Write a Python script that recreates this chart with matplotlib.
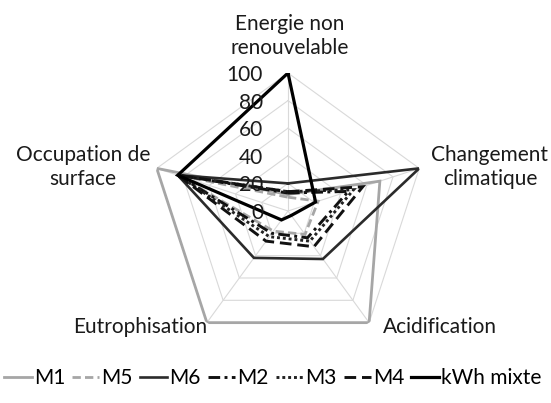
import numpy as np
import matplotlib
matplotlib.use("Agg")
import matplotlib.pyplot as plt
from matplotlib.lines import Line2D

# axes in clockwise order starting at the top
categories = ["Energie non\nrenouvelable", "Changement\nclimatique", "Acidification",
              "Eutrophisation", "Occupation de\nsurface"]
ticks = [0, 20, 40, 60, 80, 100]

M1 = [12, 70, 100, 100, 100]
M5 = [10, 23, 21, 18, 84]
M6 = [20, 100, 43, 42, 84]
M2 = [13, 46, 24, 20, 84]
M3 = [14, 50, 27, 23, 84]
M4 = [14, 57, 32, 27, 84]
KWH = [100, 21, 4, 8, 84]

series = [("M1", M1), ("M5", M5), ("M6", M6), ("M2", M2), ("M3", M3), ("M4", M4), ("kWh mixte", KWH)]
STYLE = {
    "M1": dict(color="#a6a6a6", lw=2.0, ls="-"),
    "M5": dict(color="#a6a6a6", lw=2.0, ls=(0, (3, 1.5))),
    "M6": dict(color="#2b2b2b", lw=1.9, ls="-"),
    "M2": dict(color="#111111", lw=2.1, ls=(0, (4, 1.5, 1, 1.5))),
    "M3": dict(color="#222222", lw=2.1, ls=(0, (1, 1))),
    "M4": dict(color="#111111", lw=2.1, ls=(0, (4, 2))),
    "kWh mixte": dict(color="#000000", lw=2.3, ls="-"),
}

FS = 15
plt.rcParams["font.family"] = ["Lato", "DejaVu Sans"]
W, H = 551, 403
fig = plt.figure(figsize=(W / 100, H / 100), dpi=100)
cx, cy, R = 288, 211, 138
ax = fig.add_axes([(cx - R) / W, (H - cy - R) / H, 2 * R / W, 2 * R / H], projection="polar")
ax.set_theta_offset(np.pi / 2)
ax.set_theta_direction(-1)
ax.set_ylim(0, 100)
ax.set_xticks([]); ax.set_yticks([])
ax.grid(False)
ax.spines["polar"].set_visible(False)
ax.patch.set_alpha(0)

theta = np.linspace(0, 2 * np.pi, len(categories), endpoint=False)
tc = np.append(theta, theta[0])

# pentagon grid + spokes
for lev in ticks[1:]:
    ax.plot(tc, [lev] * len(tc), color="#d9d9d9", lw=0.8, zorder=1)
for t in theta:
    ax.plot([t, t], [0, 100], color="#d9d9d9", lw=0.8, zorder=1)

for v in ticks:
    ax.annotate(str(v), xy=(0, v), xytext=(-25, -2), textcoords="offset pixels",
                ha="right", va="center", fontsize=FS, color="#1a1a1a", zorder=5)

for name, vals in series:
    st = STYLE[name]
    ax.plot(tc, vals + vals[:1], color=st["color"], lw=st["lw"], ls=st["ls"], zorder=3,
            solid_joinstyle="miter", dash_joinstyle="miter")

# category labels (pixel positions)
lab_pos = [(290, 36, "center"), (490, 167, "center"), (440, 327, "center"),
           (140, 327, "center"), (83, 167, "center")]
for txt, (x, y, ha) in zip(categories, lab_pos):
    fig.text(x / W, 1 - y / H, txt, ha=ha, va="center", fontsize=FS, color="#1a1a1a",
             linespacing=1.2)

handles = [Line2D([], [], **STYLE[n]) for n, _ in series]
fig.legend(handles, [n for n, _ in series], loc="center", bbox_to_anchor=(0.495, 1 - 378 / H),
           ncol=7, frameon=False, fontsize=FS, handlelength=1.3, handletextpad=0.1,
           columnspacing=0.35, borderaxespad=0)

fig.savefig("out.png", dpi=100, facecolor="white")
